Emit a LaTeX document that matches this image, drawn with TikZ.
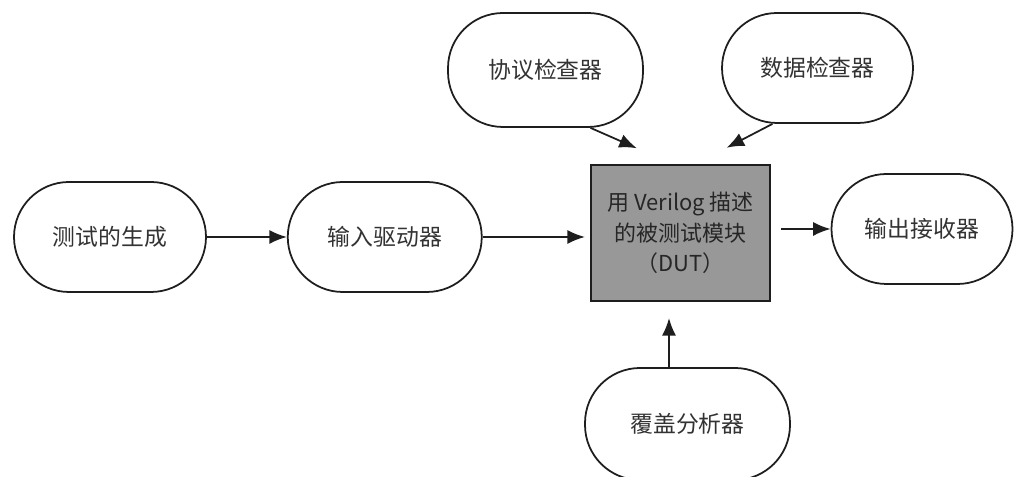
\documentclass[tikz,border=0pt]{standalone}
\usepackage{fontspec}
\setmainfont{Noto Sans CJK SC}
\usepackage{tikz}
\usetikzlibrary{arrows.meta, positioning}
\definecolor{dutgray}{HTML}{989898}
\definecolor{inkline}{HTML}{1E1E1E}
\tikzset{
  % rounded blocks round the DUT
  unit/.style={
    rectangle, rounded corners=1.1cm, minimum width=#1, minimum height=2.2cm,
    draw=inkline, fill=white, line width=1pt, align=center,
    font=\fontsize{13}{15}\selectfont, text=black!80,
  },
  unit/.default={3.84cm},
  % device under test
  dutbox/.style={
    rectangle, minimum width=3.58cm, minimum height=2.72cm,
    draw=inkline, fill=dutgray, line width=1.2pt, align=center,
    font=\fontsize{12.5}{17.5}\selectfont, text=black!85,
  },
  % arrows
  myarrow/.style={-{Latex[length=10pt,width=8pt]}, line width=1pt, draw=inkline},
}
\begin{document}
\begin{tikzpicture}
  \useasboundingbox (0,0) rectangle (20.38,9.54);

  % main chain
  \node[unit] (gen) at (2.2,4.8) {测试的生成};
  \node[unit=3.88cm, right=1.6cm of gen] (drv) {输入驱动器};
  \node[dutbox] (dut) at (13.61,4.88) {用 Verilog 描述\\的被测试模块\\（DUT）};
  \node[unit=3.62cm] (rcv) at (18.44,4.96) {输出接收器};

  % checkers and coverage
  \node[unit=3.9cm, minimum height=2.28cm] (proto) at (10.91,8.14) {协议检查器};
  \node[unit=3.82cm] (data) at (16.35,8.18) {数据检查器};
  \node[unit=4.1cm, minimum height=2.24cm] (cov) at (13.75,1.06) {覆盖分析器};

  % arrows
  \draw[myarrow] (gen) -- (drv);
  \draw[myarrow, shorten >=0.1cm] (drv.east) -- (drv.east -| dut.west);
  \draw[myarrow, shorten <=0.2cm] (dut.east |- rcv.west) -- (rcv.west);
  \draw[myarrow, shorten >=0.78cm] ([xshift=0.9cm]proto.south) -- ([xshift=-0.16cm]dut.north);
  \draw[myarrow, shorten >=0.7cm] ([xshift=-0.9cm]data.south) -- ([xshift=0.3cm]dut.north);
  \draw[myarrow, shorten >=0.32cm] ([xshift=-0.23cm]dut.south |- cov.north) -- ([xshift=-0.23cm]dut.south);

\end{tikzpicture}
\end{document}
